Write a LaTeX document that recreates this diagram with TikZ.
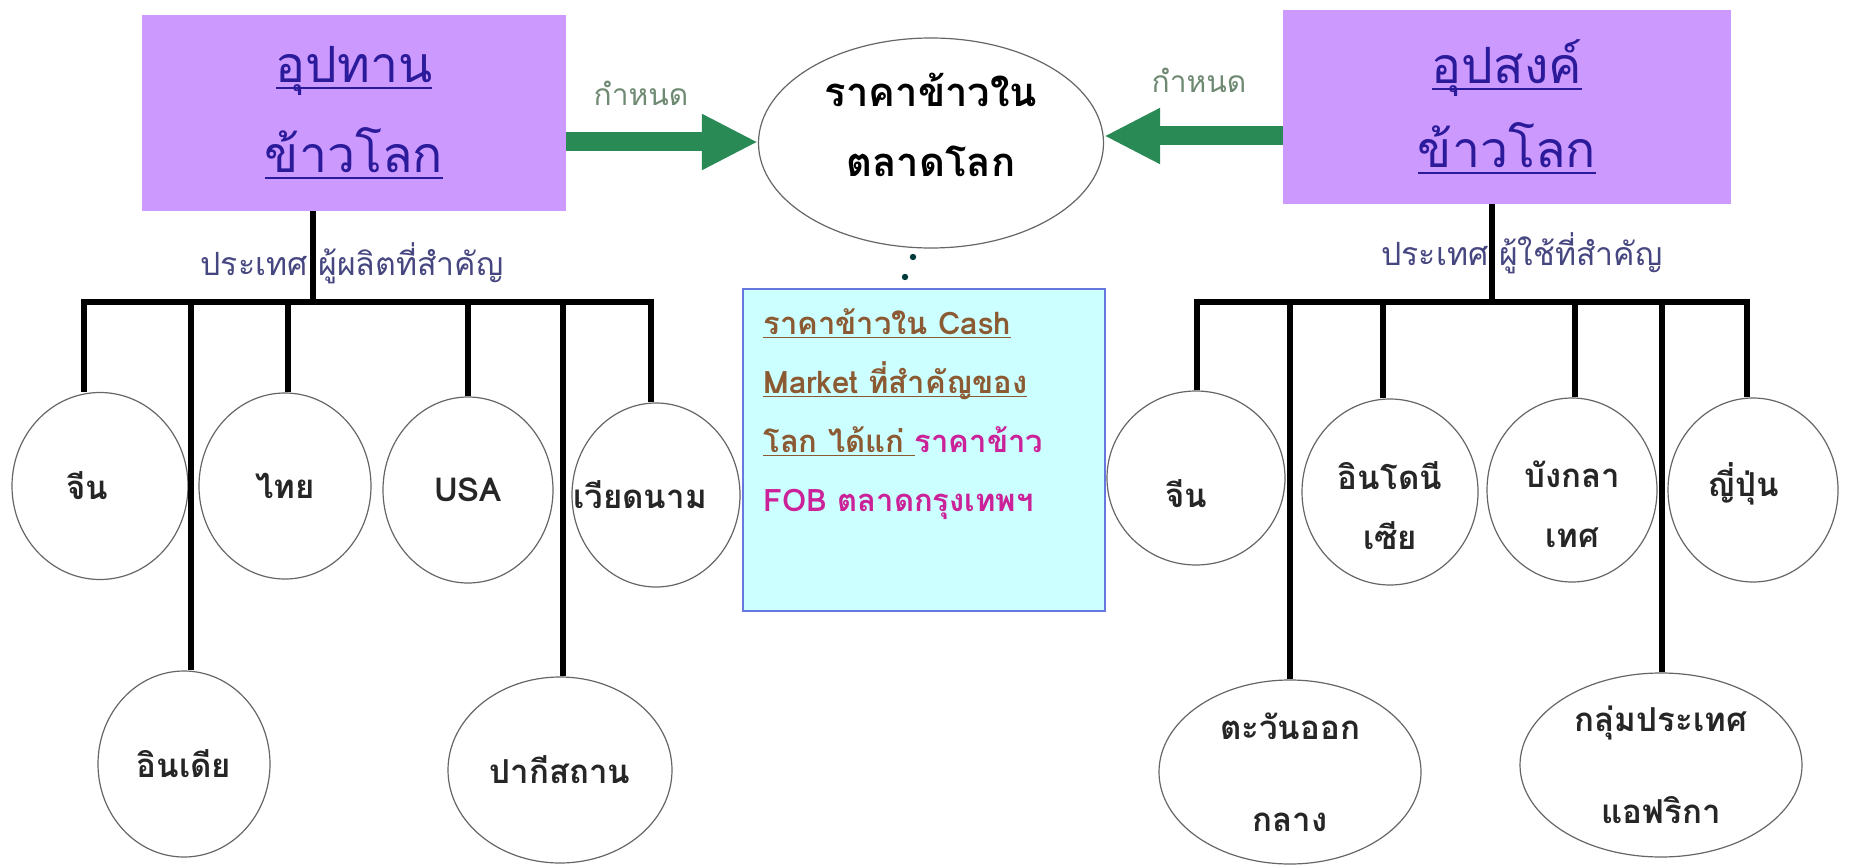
\documentclass[tikz,border=0pt]{standalone}
\usepackage{fontspec}
\setmainfont{Loma}[Script=Thai]
\usepackage{tikz}
\usetikzlibrary{arrows.meta,positioning,shapes.geometric,calc}
\definecolor{supply}{HTML}{CC99FF}
\definecolor{titleblue}{HTML}{2B1B9A}
\definecolor{fixgreen}{HTML}{2A8A55}
\definecolor{fixlabel}{HTML}{6F8A72}
\definecolor{catblue}{HTML}{464680}
\definecolor{cashfill}{HTML}{CCFFFF}
\definecolor{cashline}{HTML}{6677DD}
\definecolor{cashbrown}{HTML}{8C5A32}
\definecolor{cashpink}{HTML}{CC2299}
\newlength\px
\setlength\px{0.5pt}
\newsavebox\ulbox
\newcommand{\thaiul}[1]{\sbox\ulbox{#1}\rlap{\rule[-0.13em]{\wd\ulbox}{0.045em}}\usebox\ulbox}
\newcommand{\lowr}[2]{\raisebox{-#1}[\height][\depth]{#2}}

\begin{document}
\begin{tikzpicture}[x=0.5pt,y=-0.5pt,
  every node/.style={inner sep=0pt},
  title/.style={rectangle,fill=supply,text=titleblue,align=center},
  fixarrow/.style={draw=fixgreen,line width=9.5pt,-{Triangle[length=28pt,width=26pt]}},
  fixtext/.style={text=fixlabel,font=\fontsize{15}{18}\selectfont},
  cattext/.style={text=catblue,font=\fontsize{16}{19}\selectfont},
  cty/.style={ellipse,draw=black!60,line width=0.6pt,align=center,text=black!85},
  branch/.style={line width=3pt}]
\useasboundingbox[fill=white] (0,0) rectangle (1852,866);

\node[title,minimum width=424\px,minimum height=196\px,font=\fontsize{25}{45}\selectfont] (supL) at (354,113) {\thaiul{อุปทาน}\\\thaiul{ข้าวโลก}};
\node[title,minimum width=448\px,minimum height=194\px,font=\fontsize{25}{42}\selectfont] (demR) at (1507,107) {\thaiul{อุปสงค์}\\\thaiul{ข้าวโลก}};
\node[ellipse,draw=black!60,line width=0.6pt,minimum width=345\px,minimum height=210\px] (mkt) at (931,143) {};
\node[align=center,font=\fontsize{20}{35}\selectfont\bfseries] (mktxt) at (931,125) {ราคาข้าวใน\\ตลาดโลก};

\coordinate (sL) at ([yshift=-14.5pt]supL.east);
\coordinate (dR) at ([yshift=-14.5pt]demR.west);
\draw[fixarrow] (sL) -- (sL -| mkt.west);
\draw[fixarrow] (dR) -- (dR -| mkt.east);
\node[fixtext] (fixL) at (641,93) {กำหนด};
\node[fixtext] (fixR) at (1199,80) {กำหนด};

\fill[black!55!teal] (913,257) circle (1.6pt) (905,277) circle (1.6pt);
\node[draw=cashline,fill=cashfill,line width=0.8pt,minimum width=362\px,minimum height=322\px] (cash) at (924,450) {};
\node[anchor=north west,align=left,font=\fontsize{15.5}{29.5}\selectfont\bfseries] (cashtxt) at (763,308)
  {{\color{cashbrown}\thaiul{ราคาข้าวใน Cash}}\\
   {\color{cashbrown}\thaiul{Market ที่สำคัญของ}}\\
   {\color{cashbrown}\thaiul{โลก ได้แก่\ }}{\color{cashpink}ราคาข้าว}\\
   {\color{cashpink}FOB ตลาดกรุงเทพฯ}};

\coordinate (hubL) at (313,302);
\coordinate (hubR) at (1492,302);
\draw[branch] (hubL |- supL.south) -- (hubL);
\draw[branch] (hubR |- demR.south) -- (hubR);
\node[cattext] (catL) at (352,263) {ประเทศ ผู้ผลิตที่สำคัญ};
\node[cattext] (catR) at (1522,253) {ประเทศ ผู้ใช้ที่สำคัญ};

\node[cty,minimum width=176\px,minimum height=187\px,font=\fontsize{16.5}{30}\selectfont\bfseries] (chinaL) at (100,486) {\hspace*{-26\px}จีน};
\node[cty,minimum width=172\px,minimum height=186\px,font=\fontsize{16.5}{30}\selectfont\bfseries] (indiaL) at (184,764) {อินเดีย};
\node[cty,minimum width=172\px,minimum height=186\px,font=\fontsize{16.5}{30}\selectfont\bfseries] (thaiL) at (285,486) {ไทย};
\node[cty,minimum width=170\px,minimum height=186\px,font=\fontsize{16.5}{30}\selectfont\bfseries] (usaL) at (468,490) {USA};
\node[cty,minimum width=224\px,minimum height=186\px,font=\fontsize{16.5}{30}\selectfont\bfseries] (pakL) at (560,770) {ปากีสถาน};
\node[cty,minimum width=168\px,minimum height=184\px,font=\fontsize{16.5}{30}\selectfont\bfseries] (vietL) at (656,495) {\makebox[0pt]{\hspace*{-32\px}เวียดนาม}};

\node[cty,minimum width=178\px,minimum height=174\px,font=\fontsize{16.5}{30}\selectfont\bfseries] (chinaR) at (1196,478) {\lowr{8pt}{\hspace*{-20\px}จีน}};
\node[cty,minimum width=262\px,minimum height=184\px,font=\fontsize{16.5}{46}\selectfont\bfseries] (meR) at (1290,772) {ตะวันออก\\กลาง};
\node[cty,minimum width=176\px,minimum height=186\px,font=\fontsize{16.5}{30}\selectfont\bfseries] (indoR) at (1390,492) {\lowr{7pt}{อินโดนี}\\\lowr{7pt}{เซีย}};
\node[cty,minimum width=170\px,minimum height=184\px,font=\fontsize{16.5}{30}\selectfont\bfseries] (bangR) at (1572,490) {\lowr{7pt}{บังกลา}\\\lowr{7pt}{เทศ}};
\node[cty,minimum width=282\px,minimum height=184\px,font=\fontsize{16.5}{46}\selectfont\bfseries] (afrR) at (1661,765) {กลุ่มประเทศ\\แอฟริกา};
\node[cty,minimum width=170\px,minimum height=184\px,font=\fontsize{16.5}{30}\selectfont\bfseries] (japanR) at (1753,490) {\lowr{-3pt}{\hspace*{-20\px}ญี่ปุ่น}};

\draw[branch] ([xshift=-8pt]chinaL.north) |- (hubL) -| ([xshift=-2.5pt]vietL.north);
\foreach \n/\dx in {indiaL/3.5,thaiL/1.5,usaL/0,pakL/1.5}
  \draw[branch] ([xshift=\dx pt]\n.north) |- (hubL);
\draw[branch] ([xshift=0.5pt]chinaR.north) |- (hubR) -| ([xshift=-3pt]japanR.north);
\foreach \n/\dx in {meR/0,indoR/-3.5,bangR/1.5,afrR/0.5}
  \draw[branch] ([xshift=\dx pt]\n.north) |- (hubR);
\end{tikzpicture}
\end{document}
